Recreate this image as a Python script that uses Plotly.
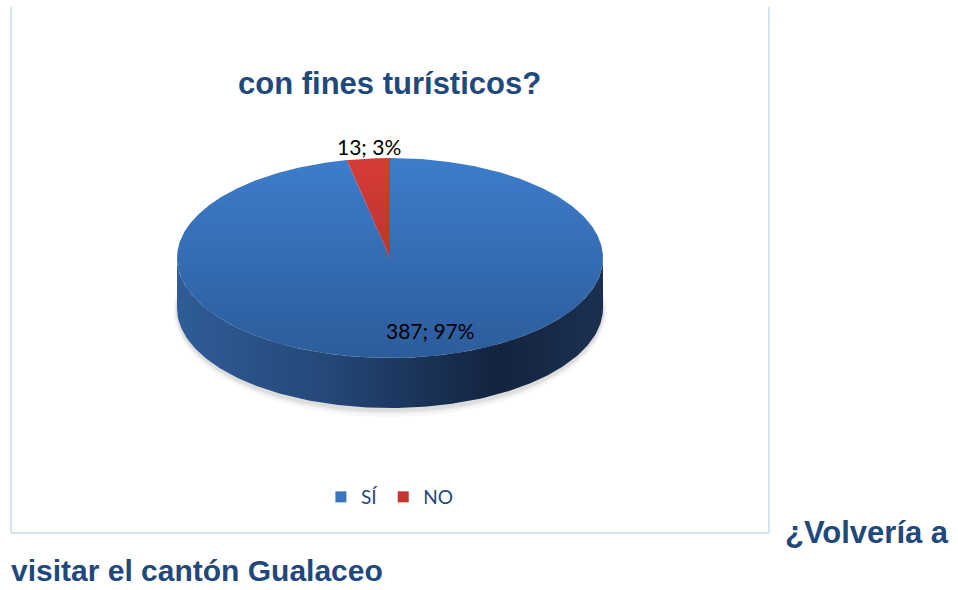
import numpy as np
import plotly.graph_objects as go

# ---- data ----
categories = ["SÍ", "NO"]
values = [387, 13]
title_text = "con fines turísticos?"
outside_line1 = "¿Volvería a"
outside_line2 = "visitar el cantón Gualaceo"

# ---- styling / geometry ----
W, H = 958, 590
CX, CY = 390, 258
RX, RY = 213, 100
DEPTH = 50
TEXT_BLUE = "#1F497D"
top_grad = {"SÍ": ("#3d7dca", "#2c5c9b"), "NO": ("#d63b37", "#a32d2a")}
legend_col = {"SÍ": "#3a74bb", "NO": "#c63532"}

total = sum(values)
fracs = [v / total for v in values]


def ell(theta_deg, dy=0.0):
    t = np.radians(theta_deg)
    return CX + RX * np.sin(t), CY - RY * np.cos(t) + dy


fig = go.Figure()

# soft shadow under the pie
for grow, op in [(7, 0.06), (4, 0.09), (2, 0.12)]:
    th = np.linspace(0, 360, 241)
    t = np.radians(th)
    fig.add_trace(go.Scatter(
        x=CX + (RX + grow * 0.5) * np.sin(t),
        y=CY + DEPTH + 2 - (RY + grow) * np.cos(t),
        mode="lines", fill="toself", line=dict(width=0),
        fillcolor=f"rgba(120,120,120,{op})", hoverinfo="skip", showlegend=False))

# side wall (front half, all visible part belongs to the large slice)
th_side = np.linspace(90, 270, 181)
xs_top, ys_top = ell(th_side)
xs_bot, ys_bot = ell(th_side[::-1], DEPTH)
fig.add_trace(go.Scatter(
    x=np.concatenate([xs_top, xs_bot]),
    y=np.concatenate([ys_top, ys_bot]),
    mode="lines", fill="toself", line=dict(width=0),
    fillgradient=dict(type="horizontal", start=CX - RX, stop=CX + RX,
                      colorscale=[[0, "#2f5c98"], [0.35, "#244878"],
                                  [0.75, "#13233f"], [1, "#1b3050"]]),
    hoverinfo="skip", showlegend=False))

# top face slices (clockwise from 12 o'clock)
start = 0.0
for cat, f in zip(categories, fracs):
    end = start + f * 360
    th = np.linspace(start, end, max(int((end - start) * 2), 4))
    ax, ay = ell(th)
    c0, c1 = top_grad[cat]
    fig.add_trace(go.Scatter(
        x=np.concatenate([[CX], ax, [CX]]),
        y=np.concatenate([[CY], ay, [CY]]),
        mode="lines", fill="toself", line=dict(width=0),
        fillgradient=dict(type="vertical", start=CY - RY, stop=CY + RY,
                          colorscale=[[0, c0], [1, c1]]),
        name=cat, hoverinfo="skip", showlegend=False))
    start = end

# legend entries
for cat in categories:
    fig.add_trace(go.Scatter(
        x=[None], y=[None], mode="markers", name=cat,
        marker=dict(symbol="square", size=11, color=legend_col[cat]),
        showlegend=True))

# data labels
label_pos = {"SÍ": (430, 330), "NO": (369, 146)}
for cat, v, f in zip(categories, values, fracs):
    lx, ly = label_pos[cat]
    fig.add_annotation(x=lx, y=ly, xref="x", yref="y",
                       text=f"{v}; {round(f * 100)}%", showarrow=False,
                       font=dict(family="Lato, Carlito, sans-serif", size=21, color="#000000"))

# title
fig.add_annotation(x=389, y=83, xref="x", yref="y", text=f"<b>{title_text}</b>",
                   showarrow=False,
                   font=dict(family="Liberation Sans, Arial, sans-serif", size=31, color=TEXT_BLUE))

# outside document text
fig.add_annotation(x=951, y=532, xref="x", yref="y", xanchor="right",
                   text=f"<b>{outside_line1}</b>", showarrow=False,
                   font=dict(family="Liberation Sans, Arial, sans-serif", size=31, color=TEXT_BLUE))
fig.add_annotation(x=9, y=570, xref="x", yref="y", xanchor="left",
                   text=f"<b>{outside_line2}</b>", showarrow=False,
                   font=dict(family="Liberation Sans, Arial, sans-serif", size=30, color=TEXT_BLUE))

# chart frame (left, right, bottom)
frame_col = "#d5e2f1"
for x0, y0, x1, y1 in [(11, 7, 11, 533), (769, 7, 769, 533), (11, 533, 769, 533)]:
    fig.add_shape(type="line", x0=x0, y0=y0, x1=x1, y1=y1, xref="x", yref="y",
                  line=dict(color=frame_col, width=2))

fig.update_layout(
    width=W, height=H, autosize=False,
    margin=dict(l=0, r=0, t=0, b=0),
    paper_bgcolor="white", plot_bgcolor="white",
    xaxis=dict(range=[0, W], visible=False, fixedrange=True),
    yaxis=dict(range=[H, 0], visible=False, fixedrange=True),
    legend=dict(orientation="h", x=0.407, xanchor="center", y=1 - 497 / H, yanchor="middle",
                font=dict(family="Lato, Carlito, sans-serif", size=19, color=TEXT_BLUE),
                itemwidth=30, tracegroupgap=0, bgcolor="rgba(0,0,0,0)"),
)

fig.write_html("out.html")
